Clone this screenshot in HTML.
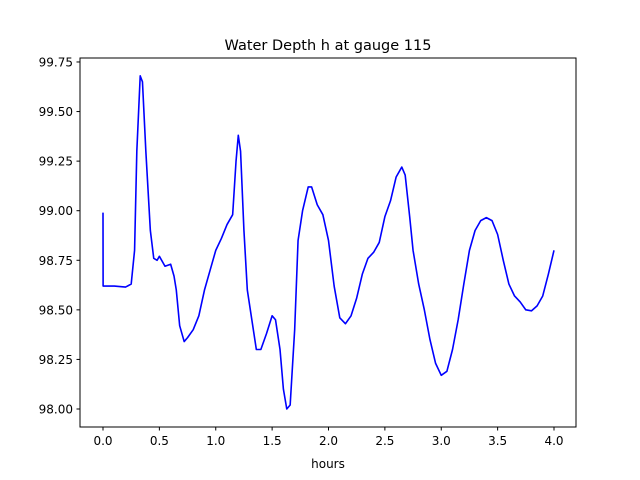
<!DOCTYPE html>
<html><head><meta charset="utf-8"><style>
body{margin:0;background:#fff}
svg{display:block;font-family:"DejaVu Sans","Liberation Sans",sans-serif}
</style></head><body>
<svg id="chart" width="640" height="480" viewBox="0 0 640 480">
<rect width="640" height="480" fill="#fff"/>
<text x="328" y="50" text-anchor="middle" font-size="14.5">Water Depth h at gauge 115</text>
<text x="328" y="468" text-anchor="middle" font-size="12">hours</text>
<g id="plot"></g>
<rect x="80" y="58" width="496" height="369" fill="none" stroke="#000" stroke-width="1"/>
</svg>
<script>
const times=[0,0.001,0.1,0.2,0.25,0.28,0.3,0.33,0.35,0.38,0.42,0.45,0.48,0.5,0.55,0.6,0.63,0.65,0.68,0.72,0.75,0.8,0.85,0.9,0.95,1.0,1.05,1.1,1.15,1.18,1.2,1.22,1.25,1.28,1.32,1.36,1.4,1.45,1.5,1.53,1.57,1.6,1.63,1.66,1.7,1.73,1.77,1.82,1.85,1.9,1.95,2.0,2.05,2.1,2.15,2.2,2.25,2.3,2.35,2.4,2.45,2.5,2.55,2.6,2.65,2.68,2.72,2.75,2.8,2.85,2.9,2.95,3.0,3.05,3.1,3.15,3.2,3.25,3.3,3.35,3.4,3.45,3.5,3.55,3.6,3.65,3.7,3.75,3.8,3.85,3.9,3.95,4.0];
const depths=[98.99,98.62,98.62,98.615,98.63,98.8,99.3,99.68,99.65,99.3,98.9,98.76,98.75,98.77,98.72,98.73,98.67,98.6,98.42,98.34,98.36,98.4,98.47,98.6,98.7,98.8,98.86,98.93,98.98,99.25,99.38,99.3,98.9,98.6,98.45,98.3,98.3,98.38,98.47,98.45,98.3,98.1,98.0,98.02,98.4,98.85,99.0,99.12,99.12,99.03,98.98,98.85,98.62,98.46,98.43,98.47,98.56,98.68,98.76,98.79,98.84,98.97,99.05,99.17,99.22,99.18,98.97,98.8,98.63,98.5,98.35,98.23,98.17,98.19,98.3,98.45,98.63,98.8,98.9,98.95,98.965,98.95,98.88,98.75,98.63,98.57,98.54,98.5,98.495,98.52,98.57,98.68,98.8];
const xTicks=[0,0.5,1,1.5,2,2.5,3,3.5,4];
const xTickLabels=["0.0","0.5","1.0","1.5","2.0","2.5","3.0","3.5","4.0"];
const yTicks=[98,98.25,98.5,98.75,99,99.25,99.5,99.75];
const yTickLabels=["98.00","98.25","98.50","98.75","99.00","99.25","99.50","99.75"];
const X=t=>103+t*112.75;
const Y=h=>409-(h-98)*198.3;
const NS="http://www.w3.org/2000/svg";
const g=document.getElementById('plot');
function mk(tag,attrs){const e=document.createElementNS(NS,tag);for(const k in attrs)e.setAttribute(k,attrs[k]);g.appendChild(e);return e;}
xTicks.forEach((t,i)=>{
 const l=mk('line',{x1:X(t),x2:X(t),y1:427,y2:430.5,stroke:'#000'});
 
 
 const tx=mk('text',{x:X(t),y:445,'text-anchor':'middle','font-size':'12'});
 tx.textContent=xTickLabels[i];
 
 
});
yTicks.forEach((v,i)=>{
 const l=mk('line',{x1:76.5,x2:80,y1:Y(v),y2:Y(v),stroke:'#000'});
 
 
 const tx=mk('text',{x:73,y:Y(v)+4.5,'text-anchor':'end','font-size':'12'});
 tx.textContent=yTickLabels[i];
 
 
});
const pts=times.map((t,i)=>X(t).toFixed(2)+','+Y(depths[i]).toFixed(2)).join(' ');
const line=mk('polyline',{points:pts,fill:'none',stroke:'#0000ff','stroke-width':'1.6','stroke-linejoin':'round'});


</script>
</body></html>
